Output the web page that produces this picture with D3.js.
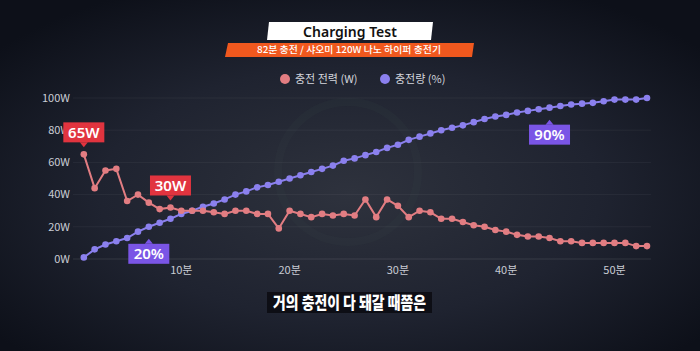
<!DOCTYPE html>
<html>
<head>
<meta charset="utf-8">
<script src="https://cdn.jsdelivr.net/npm/d3@7"></script>
<style>
	html, body { margin: 0; padding: 0; background: #151924; }
	#chart { width: 700px; height: 351px; }
	text { font-family: "Noto Sans CJK KR", "Noto Sans", sans-serif; }
</style>
</head>
<body>
<div id="chart"></div>
<script>
// data
var minutes = [1,2,3,4,5,6,7,8,9,10,11,12,13,14,15,16,17,18,19,20,21,22,23,24,25,26,27,28,29,30,31,32,33,34,35,36,37,38,39,40,41,42,43,44,45,46,47,48,49,50,51,52,53];
var power = [65,44,55,56,36,40,35,31,32,30,30,30,29,28,30,30,28,28,19,30,28,26,28,27,28,27,37,26,37,33,26,30,29,25,25,23,21,20,18,17,15,14,14,13,11,11,10,10,10,10,10,8,8];
var percent = [1,6,9,11,13,17,20,22.5,25,28,30,32.5,34.5,37,40,42,44.5,46,48,50,52,54,56,58,61,62.5,64.5,66.5,69,71,74,76,78,80,81.5,83,85,87,88.5,89.5,91,92,93,94,95,96,96.5,97,98,99,99,99,100];
var xTicks = [10,20,30,40,50];
var xTickLabels = ["10분","20분","30분","40분","50분"];
var yTicks = [0,20,40,60,80,100];
var yTickLabels = ["0W","20W","40W","60W","80W","100W"];
var legendLabels = ["충전 전력 (W)", "충전량 (%)"];
var callouts = [
	{ text: "65W", minute: 1, series: "power", side: "above" },
	{ text: "30W", minute: 9, series: "power", side: "above" },
	{ text: "20%", minute: 7, series: "percent", side: "below" },
	{ text: "90%", minute: 44, series: "percent", side: "below" }
];

var width = 700,
		height = 351,
		red = "#e27d82",
		purple = "#8b80ee",
		redBox = "#e1343f",
		purpleBox = "#7a55e6";

var svg = d3.select("#chart").append("svg")
		.attr("width", width)
		.attr("height", height);

// background
var defs = svg.append("defs");
var bg = defs.append("radialGradient")
		.attr("id", "bg")
		.attr("cx", "0.5").attr("cy", "0.55").attr("r", "0.65");
bg.append("stop").attr("offset", "0%").attr("stop-color", "#2e323d");
bg.append("stop").attr("offset", "55%").attr("stop-color", "#1f2330");
bg.append("stop").attr("offset", "100%").attr("stop-color", "#0d1019");

svg.append("rect")
		.attr("width", width)
		.attr("height", height)
		.attr("fill", "url(#bg)");

// faint watermark ring behind the plot
svg.append("circle")
		.attr("cx", 348).attr("cy", 172).attr("r", 70)
		.attr("fill", "none")
		.attr("stroke", "#3d4c47")
		.attr("stroke-width", 8)
		.attr("opacity", 0.12);

// scales
var x = d3.scaleLinear().domain([0, 50]).range([73, 614.5]);
var y = d3.scaleLinear().domain([0, 100]).range([259, 98]);

// grid
svg.append("g")
		.selectAll("line")
		.data(yTicks)
		.enter().append("line")
		.attr("x1", x(0))
		.attr("x2", x(53) + 4)
		.attr("y1", function(d) { return y(d); })
		.attr("y2", function(d) { return y(d); })
		.attr("stroke", "#ffffff")
		.attr("stroke-opacity", function(d) { return d === 0 ? 0.1 : 0.05; });

// axes labels
svg.append("g")
		.selectAll("text")
		.data(yTicks)
		.enter().append("text")
		.attr("x", 70)
		.attr("y", function(d) { return y(d); })
		.attr("dy", "0.35em")
		.attr("text-anchor", "end")
		.style("font-size", "11px")
		.attr("fill", "#c9ccd4")
		.text(function(d, i) { return yTickLabels[i]; });

svg.append("g")
		.selectAll("text")
		.data(xTicks)
		.enter().append("text")
		.attr("x", function(d) { return x(d); })
		.attr("y", 270)
		.attr("dy", "0.35em")
		.attr("text-anchor", "middle")
		.style("font-size", "11px")
		.attr("fill", "#c9ccd4")
		.text(function(d, i) { return xTickLabels[i]; });

// lines + dots
function drawSeries(values, color) {
	var pts = minutes.map(function(m, i) { return [m, values[i]]; });
	var line = d3.line()
			.x(function(d) { return x(d[0]); })
			.y(function(d) { return y(d[1]); });
	svg.append("path")
			.datum(pts)
			.attr("fill", "none")
			.attr("stroke", color)
			.attr("stroke-width", 2)
			.attr("d", line);
	svg.append("g")
			.selectAll("circle")
			.data(pts)
			.enter().append("circle")
			.attr("cx", function(d) { return x(d[0]); })
			.attr("cy", function(d) { return y(d[1]); })
			.attr("r", 3.3)
			.attr("fill", color);
}
drawSeries(percent, purple);
drawSeries(power, red);

// callouts
callouts.forEach(function(c) {
	var v = c.series === "power" ? power[c.minute - 1] : percent[c.minute - 1];
	var color = c.series === "power" ? redBox : purpleBox;
	var px = x(c.minute), py = y(v);
	var bw = 41, bh = 20, tipY, boxY;
	var g = svg.append("g");
	if (c.side === "above") {
		tipY = py - 7;
		boxY = tipY - 5 - bh;
		g.append("path")
				.attr("d", "M" + (px - 4) + "," + (tipY - 5) + "L" + px + "," + tipY + "L" + (px + 4) + "," + (tipY - 5) + "Z")
				.attr("fill", color);
	} else {
		tipY = py + 12;
		boxY = tipY + 5;
		g.append("path")
				.attr("d", "M" + (px - 4) + "," + (tipY + 5) + "L" + px + "," + tipY + "L" + (px + 4) + "," + (tipY + 5) + "Z")
				.attr("fill", color);
	}
	g.append("rect")
			.attr("x", px - bw / 2)
			.attr("y", boxY)
			.attr("width", bw)
			.attr("height", bh)
			.attr("fill", color);
	g.append("text")
			.attr("x", px)
			.attr("y", boxY + bh / 2)
			.attr("dy", "0.36em")
			.attr("text-anchor", "middle")
			.style("font-family", "'Noto Sans', sans-serif")
			.style("font-size", "15px")
			.style("font-weight", "600")
			.attr("fill", "#ffffff")
			.text(c.text);
});

// title block
svg.append("path")
		.attr("d", "M269,22L433,22L431,40L267,40Z")
		.attr("fill", "#ffffff");
svg.append("text")
		.attr("x", 350).attr("y", 31.5)
		.attr("dy", "0.36em")
		.attr("text-anchor", "middle")
		.style("font-family", "'Noto Sans', sans-serif")
		.style("font-size", "14px")
		.style("font-weight", "600")
		.attr("fill", "#111111")
		.text("Charging Test");

svg.append("path")
		.attr("d", "M228,43L474,43L472,57L225,57Z")
		.attr("fill", "#f0581e");
svg.append("text")
		.attr("x", 349).attr("y", 50)
		.attr("dy", "0.36em")
		.attr("text-anchor", "middle")
		.attr("textLength", 184)
		.attr("lengthAdjust", "spacingAndGlyphs")
		.style("font-size", "9.5px")
		.style("font-weight", "500")
		.attr("fill", "#ffffff")
		.text("82분 충전 / 샤오미 120W 나노 하이퍼 충전기");

// legend
var legend = svg.append("g")
		.selectAll("g")
		.data(legendLabels)
		.enter().append("g")
		.attr("transform", function(d, i) { return "translate(" + (i === 0 ? 285 : 385) + ",79)"; });
legend.append("circle")
		.attr("r", 5)
		.attr("fill", function(d, i) { return i === 0 ? red : purple; });
legend.append("text")
		.attr("x", 10)
		.attr("dy", "0.35em")
		.style("font-size", "11px")
		.attr("fill", "#d4d6dd")
		.text(function(d) { return d; });

// subtitle caption
svg.append("rect")
		.attr("x", 267).attr("y", 292)
		.attr("width", 165).attr("height", 21)
		.attr("fill", "#0a0b10")
		.attr("opacity", 0.85);
svg.append("text")
		.attr("x", 273).attr("y", 302.5)
		.attr("dy", "0.36em")
		.attr("textLength", 153)
		.attr("lengthAdjust", "spacingAndGlyphs")
		.style("font-size", "17px")
		.style("font-weight", "900")
		.attr("fill", "#ffffff")
		.text("거의 충전이 다 돼갈 때쯤은");
</script>
</body>
</html>
